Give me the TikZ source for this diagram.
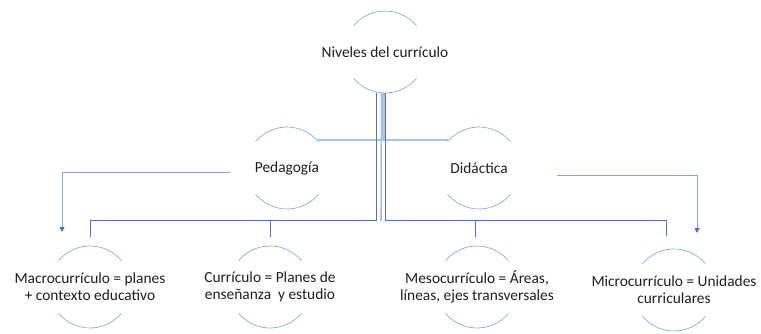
\documentclass[tikz,border=0pt]{standalone}
\usepackage{fontspec}
\setmainfont{Carlito}
\usepackage{tikz}
\usetikzlibrary{positioning,arrows.meta}
\definecolor{connblue}{RGB}{82,114,186}
\definecolor{lightblue}{RGB}{172,192,226}
\definecolor{arcblue}{RGB}{143,170,220}
\definecolor{tipblue}{RGB}{68,114,196}
\definecolor{textgray}{RGB}{30,30,30}

\begin{document}
\begin{tikzpicture}[x=1pt,y=1pt,
  level/.style={inner sep=0pt,text=textgray,align=center,
    font=\fontsize{15.4}{17}\selectfont},
  rim/.style={draw=arcblue,line width=0.7pt},
  conn/.style={draw=connblue,line width=0.9pt},
  light/.style={draw=lightblue,line width=1.6pt},
  jump/.style={draw=arcblue!90!connblue,line width=0.9pt,-{Triangle[length=5pt,width=5pt,color=tipblue]}}]
  \useasboundingbox (0,0) rectangle (761,-334);
  \node[level](root) at (385,-52){Niveles del currículo};
  \node[level](ped) at (287,-168){Pedagogía};
  \node[level](did) at (479,-168){Didáctica};
  \node[level](macro) at (90,-287){Macrocurrículo = planes\\+ contexto educativo};
  \node[level](curr) at (270,-287){Currículo = Planes de\\enseñanza\ \ y estudio};
  \node[level](meso) at (477,-287){Mesocurrículo = Áreas,\\líneas, ejes transversales};
  \node[level](micro) at (674,-290){Microcurrículo = Unidades\\curriculares};
  \foreach \n in {root,ped,did,macro,curr,meso,micro}{
    \draw[rim] ([shift={(40:41pt)}]\n.center) arc[start angle=40,end angle=140,radius=41pt];
    \draw[rim] ([shift={(220:41pt)}]\n.center) arc[start angle=220,end angle=320,radius=41pt];
  }
  \coordinate (bus) at (381,-221);
  \draw[light] ([shift={(-3.5pt,-41pt)}]root.center) -- (bus);
  \draw[light] ([shift={(-3pt,-41pt)}]root.center) |- ([shift={(31pt,28pt)}]ped.center);
  \draw[light] ([shift={(-1pt,-41pt)}]root.center) |- ([shift={(-31pt,28pt)}]did.center);
  \draw[conn] ([shift={(-9pt,-41pt)}]root.center) |- ([shift={(0pt,67pt)}]macro.center) -- ([shift={(0pt,50pt)}]macro.center);
  \draw[conn] ([shift={(0pt,67pt)}]curr.center) -- ([shift={(0pt,50pt)}]curr.center);
  \draw[conn] ([shift={(0.5pt,-41pt)}]root.center) |- ([shift={(-8pt,70pt)}]micro.center) -- ([shift={(-8pt,54pt)}]micro.center);
  \draw[conn] ([shift={(-2pt,67pt)}]meso.center) -- ([shift={(-2pt,50pt)}]meso.center);
  \draw[jump] ([shift={(-57pt,-4pt)}]ped.center) -| ([shift={(-28pt,55pt)}]macro.center);
  \draw[jump] ([shift={(78pt,-7pt)}]did.center) -| ([shift={(23pt,57pt)}]micro.center);
\end{tikzpicture}
\end{document}
